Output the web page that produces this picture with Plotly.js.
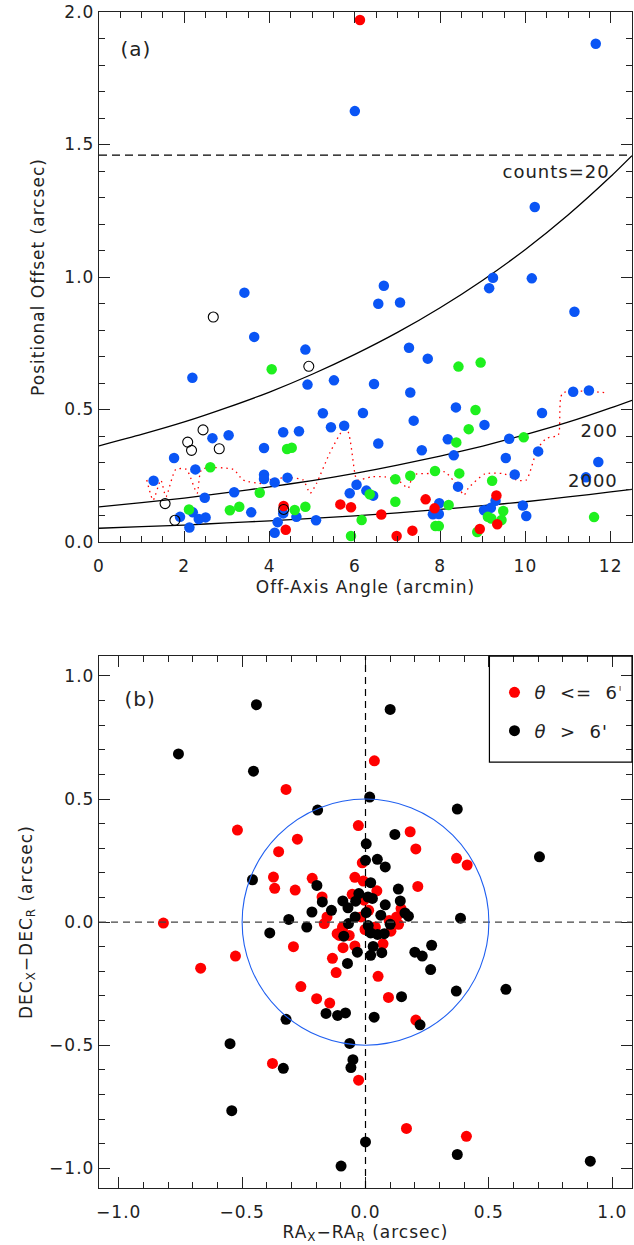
<!DOCTYPE html>
<html>
<head>
<meta charset="utf-8">
<script src="https://cdn.plot.ly/plotly-3.0.1.min.js"></script>
<style>
  html, body { margin: 0; padding: 0; background: #fff; }
  #chart { width: 634px; height: 1245px; }
  #chart text { letter-spacing: 1px; }
</style>
</head>
<body>
<div id="chart"></div>
<script>
// ---- panel (a): positional offset vs off-axis angle ----
let blueX = [6.00, 11.65, 10.22, 9.24, 9.15, 10.15, 11.15, 6.68, 6.55, 7.06, 7.27, 7.71, 6.45, 7.30, 3.41, 3.64, 2.19, 4.84, 4.89, 5.51,
             5.25, 6.19, 8.37, 5.44, 5.75, 4.69, 4.32, 7.38, 9.04, 10.39, 11.12, 11.49, 6.55, 8.18, 9.62, 7.57, 8.32, 9.54, 10.30, 11.71,
             11.42, 9.75, 8.42, 3.87, 2.66, 3.04, 1.76, 2.26, 1.28, 3.87, 3.87, 4.12, 4.42, 3.17, 2.48, 2.20, 1.90, 2.34, 2.50, 2.12,
             3.57, 4.32, 4.19, 4.12, 6.04, 5.88, 6.27, 6.43, 4.63, 5.09, 9.30, 9.19, 9.03, 9.94, 10.02, 7.98, 7.83, 7.97];
let blueY = [1.626, 1.880, 1.264, 0.997, 0.958, 0.995, 0.869, 0.967, 0.899, 0.904, 0.733, 0.692, 0.596, 0.564, 0.941, 0.774, 0.620, 0.726, 0.594, 0.610,
             0.486, 0.487, 0.508, 0.433, 0.439, 0.418, 0.414, 0.458, 0.442, 0.487, 0.567, 0.572, 0.372, 0.388, 0.390, 0.346, 0.327, 0.317, 0.342, 0.302,
             0.244, 0.255, 0.209, 0.355, 0.392, 0.403, 0.317, 0.274, 0.231, 0.254, 0.238, 0.225, 0.243, 0.188, 0.167, 0.112, 0.095, 0.087, 0.093, 0.055,
             0.112, 0.108, 0.075, 0.035, 0.216, 0.184, 0.194, 0.175, 0.095, 0.082, 0.156, 0.129, 0.120, 0.138, 0.098, 0.146, 0.105, 0.106];

let greenX = [4.05, 8.43, 8.95, 8.83, 8.67, 9.96, 8.38, 8.45, 7.88, 7.30, 6.95, 9.22, 6.35, 4.41, 4.52, 2.61, 3.77, 2.11, 3.07, 3.29,
              4.59, 4.84, 6.16, 5.91, 6.95, 8.20, 7.89, 7.97, 9.48, 9.12, 9.20, 9.44, 8.87, 11.61];
let greenY = [0.652, 0.662, 0.677, 0.498, 0.426, 0.395, 0.376, 0.259, 0.268, 0.250, 0.237, 0.231, 0.180, 0.351, 0.356, 0.282, 0.186, 0.123, 0.120, 0.133,
              0.121, 0.133, 0.083, 0.023, 0.152, 0.140, 0.060, 0.060, 0.117, 0.095, 0.089, 0.083, 0.038, 0.094];

let redX = [6.12, 9.32, 9.34, 8.93, 7.66, 7.87, 6.62, 5.66, 5.91, 4.33, 4.38, 6.98, 7.35];
let redY = [1.970, 0.176, 0.067, 0.049, 0.161, 0.127, 0.104, 0.142, 0.131, 0.136, 0.046, 0.023, 0.043];

let openX = [2.68, 4.92, 2.44, 2.08, 2.17, 2.82, 1.55, 1.78, 4.33];
let openY = [0.849, 0.663, 0.423, 0.377, 0.346, 0.352, 0.145, 0.082, 0.123];

// running offset (red dotted)
let runX = [1.12, 1.27, 1.45, 1.57, 1.80, 2.05, 2.30, 2.41, 3.15, 3.38, 3.85, 4.05, 4.48, 4.79, 4.95, 5.10, 5.41, 5.73, 5.84, 6.00,
            6.05, 6.39, 6.70, 7.01, 7.25, 7.37, 7.80, 8.11, 8.30, 8.42, 8.56, 8.66, 9.05, 9.51, 9.79, 10.02, 10.28, 10.49, 10.77, 10.87, 11.90];
let runY = [0.234, 0.158, 0.234, 0.171, 0.274, 0.274, 0.184, 0.274, 0.274, 0.234, 0.221, 0.237, 0.243, 0.234, 0.184, 0.221, 0.335, 0.423, 0.416, 0.259,
            0.234, 0.246, 0.246, 0.234, 0.203, 0.253, 0.259, 0.265, 0.234, 0.209, 0.177, 0.203, 0.257, 0.257, 0.234, 0.234, 0.350, 0.391, 0.404, 0.561, 0.563];

// error curves for source counts 20, 200, 2000
let curveX = [0, 1, 2, 3, 4, 5, 6, 7, 8, 9, 10, 11, 12, 12.5];
let counts20 = [0.363, 0.406, 0.453, 0.507, 0.566, 0.633, 0.708, 0.791, 0.884, 0.988, 1.104, 1.234, 1.379, 1.458];
let counts200 = [0.133, 0.149, 0.166, 0.186, 0.208, 0.232, 0.259, 0.290, 0.324, 0.362, 0.405, 0.452, 0.506, 0.535];
let counts2000 = [0.052, 0.058, 0.064, 0.072, 0.080, 0.089, 0.099, 0.110, 0.123, 0.137, 0.152, 0.170, 0.189, 0.199];
let cutLevel = 1.46;

// ---- panel (b): RA / DEC offsets ----
let innerX = [-0.322, -0.519, -0.352, -0.373, -0.368, -0.819, -0.527, -0.668, -0.377, 0.181, 0.204, 0.369, 0.412, 0.212, 0.204, 0.166, 0.409, 0.036, -0.276, -0.029,
              -0.013, -0.285, -0.216, -0.043, -0.009, -0.176, -0.156, -0.054, -0.006, -0.018, -0.093, -0.167, 0.046, 0.144, 0.126, 0.013, 0.096, 0.134, 0.040, -0.292,
              -0.115, -0.091, -0.043, -0.134, -0.119, -0.262, -0.198, -0.145, -0.028, -0.093, -0.106, -0.066, 0.071, 0.051, 0.093, 0.103, -0.002];
let innerY = [0.539, 0.374, 0.286, 0.183, 0.137, -0.004, -0.138, -0.187, -0.574, 0.367, 0.297, 0.259, 0.232, 0.145, -0.398, -0.838, -0.870, 0.655, 0.337, 0.392,
              0.241, 0.130, 0.178, 0.182, 0.167, 0.102, 0.021, 0.113, 0.089, 0.021, -0.020, -0.006, 0.127, 0.055, 0.021, 0.048, 0.007, -0.009, -0.020, -0.100,
              -0.047, -0.104, -0.097, -0.147, -0.205, -0.262, -0.311, -0.329, -0.642, -0.027, -0.054, -0.054, -0.088, -0.220, -0.306, -0.037, -0.030];

let outerX = [-0.442, -0.758, -0.454, -0.458, -0.388, -0.322, -0.549, -0.333, -0.542, -0.311, 0.372, 0.705, 0.385, 0.268, 0.200, 0.230, 0.264, 0.368, 0.569, 0.146,
              0.221, 0.372, 0.911, 0.100, 0.000, -0.099, -0.194, 0.017, 0.003, 0.000, -0.197, -0.175, -0.138, -0.217, -0.092, -0.071, -0.040, -0.027, 0.010, -0.042,
              0.003, -0.238, -0.069, 0.011, 0.119, 0.048, 0.080, 0.133, 0.021, 0.141, 0.028, 0.080, 0.160, 0.174, 0.062, 0.100, -0.088, -0.033, -0.073, -0.160,
              -0.113, -0.081, 0.021, 0.021, 0.035, -0.064, -0.051, -0.059, 0.049, 0.076, 0.031, 0.066];
let outerY = [0.883, 0.683, 0.613, 0.172, -0.044, -0.395, -0.494, -0.594, -0.766, 0.011, 0.459, 0.265, 0.016, -0.094, -0.122, -0.138, -0.193, -0.280, -0.273, -0.303,
              -0.417, -0.944, -0.971, 0.864, -0.893, -0.991, 0.455, 0.508, 0.318, 0.251, 0.149, 0.082, 0.048, 0.041, 0.086, 0.058, 0.085, 0.116, 0.102, 0.021,
              0.039, -0.020, -0.006, -0.014, 0.356, 0.255, 0.224, 0.134, 0.160, 0.086, 0.096, 0.070, 0.037, 0.024, 0.028, -0.009, -0.057, -0.122, -0.168, -0.371,
              -0.379, -0.369, -0.044, -0.135, -0.386, -0.493, -0.559, -0.591, -0.050, -0.047, -0.099, -0.124];
let circleRadius = 0.5;

let font = "DejaVu Sans";
let ink = "#222";

function dots(x, y, color, size, xa, ya, name) {
  return {
    x: x, y: y, xaxis: xa, yaxis: ya,
    type: "scatter", mode: "markers",
    marker: {color: color, size: size, line: {width: 0}},
    name: name, showlegend: false, hoverinfo: "x+y",
  };
}

function curve(x, y, dash, color, shape) {
  return {
    x: x, y: y, xaxis: "x", yaxis: "y",
    type: "scatter", mode: "lines",
    line: {color: color, width: 1.3, dash: dash, shape: shape, smoothing: 0.6},
    showlegend: false, hoverinfo: "skip",
  };
}

let innerTrace = dots(innerX, innerY, "#ff0000", 11, "x2", "y2", "<i>θ</i>\u00a0 <=\u00a0 6'");
innerTrace.showlegend = true;
innerTrace.legendgroup = "in";
let outerTrace = dots(outerX, outerY, "#000000", 11, "x2", "y2", "<i>θ</i>\u00a0 >\u00a0 6'");
outerTrace.showlegend = true;
outerTrace.legendgroup = "out";

let data = [
  curve(curveX, counts20, "solid", "#000", "spline"),
  curve(curveX, counts200, "solid", "#000", "spline"),
  curve(curveX, counts2000, "solid", "#000", "spline"),
  curve(runX, runY, "1.5px,4px", "#ff0000", "spline"),
  dots(blueX, blueY, "#0a55f5", 10.5, "x", "y", "blue"),
  dots(greenX, greenY, "#1ef01e", 10.5, "x", "y", "green"),
  dots(redX, redY, "#ff0000", 10.5, "x", "y", "red"),
  {
    x: openX, y: openY, xaxis: "x", yaxis: "y",
    type: "scatter", mode: "markers",
    marker: {symbol: "circle-open", color: "#000", size: 10, line: {width: 1.1}},
    showlegend: false, hoverinfo: "x+y",
  },
  innerTrace,
  outerTrace,
];

let axisBase = {
  showline: true, mirror: "allticks", linecolor: ink, linewidth: 1.2,
  ticks: "inside", ticklen: 11, tickwidth: 1, tickcolor: ink,
  showgrid: false, zeroline: false,
  tickfont: {family: font, size: 17, color: ink},
};

function axis(extra, minorStep) {
  return Object.assign({}, axisBase, {
    minor: {ticks: "inside", ticklen: 6, dtick: minorStep, tickcolor: ink, tickwidth: 1, showgrid: false},
  }, extra);
}

let titleFont = {family: font, size: 17, color: ink};

let layout = {
  width: 634, height: 1245,
  margin: {l: 99, r: 2, t: 12, b: 57},
  paper_bgcolor: "#fff", plot_bgcolor: "#fff",
  font: {family: font, color: ink},
  showlegend: true,
  legend: {
    x: 0.742, xanchor: "left", y: 0.437, yanchor: "top",
    bgcolor: "rgba(0,0,0,0)", borderwidth: 0,
    font: {family: font, size: 18, color: ink},
    tracegroupgap: 12, itemwidth: 30,
  },
  xaxis: axis({
    anchor: "y", domain: [0, 1], range: [0, 12.5], dtick: 2, tick0: 0,
    ticklabelstandoff: 8,
    title: {text: "Off-Axis Angle (arcmin)", font: titleFont, standoff: 6},
  }, 0.5),
  yaxis: axis({
    anchor: "x", domain: [0.5493, 1], range: [0, 2.0], dtick: 0.5, tickformat: ".1f",
    title: {text: "Positional Offset (arcsec)", font: titleFont, standoff: 18},
  }, 0.1),
  xaxis2: axis({
    anchor: "y2", domain: [0, 1], range: [-1.08, 1.08], dtick: 0.5, tick0: 0, tickformat: ".1f",
    ticklabelstandoff: 8,
    title: {text: "RA<sub>X</sub>−RA<sub>R</sub> (arcsec)", font: titleFont, standoff: 4},
  }, 0.1),
  yaxis2: axis({
    anchor: "x2", domain: [0, 0.4522], range: [-1.08, 1.08], dtick: 0.5, tick0: 0, tickformat: ".1f",
    title: {text: "DEC<sub>X</sub>−DEC<sub>R</sub> (arcsec)", font: titleFont, standoff: 16},
  }, 0.1),
  shapes: [
    {type: "line", xref: "x domain", yref: "y", x0: 0, x1: 1, y0: cutLevel, y1: cutLevel,
     line: {color: "#000", width: 1.2, dash: "8px,5px"}},
    {type: "line", xref: "x2 domain", yref: "y2", x0: 0, x1: 1, y0: 0, y1: 0,
     line: {color: "#444", width: 1.2, dash: "7px,5px"}},
    {type: "line", xref: "x2", yref: "y2 domain", x0: 0, x1: 0, y0: 0, y1: 1,
     line: {color: "#000", width: 1.2, dash: "7px,5px"}},
    {type: "circle", xref: "x2", yref: "y2", x0: -circleRadius, x1: circleRadius, y0: -circleRadius, y1: circleRadius,
     line: {color: "#1f5ff0", width: 1.1}},
    // legend box
    {type: "rect", xref: "x2 domain", yref: "y2 domain", x0: 0.7325, x1: 1, y0: 0.801, y1: 1,
     line: {color: "#000", width: 1.2}, fillcolor: "rgba(0,0,0,0)"},
  ],
  annotations: [
    {xref: "x", yref: "y", x: 0.5, y: 1.86, xanchor: "left", text: "(a)", showarrow: false,
     font: {family: font, size: 20, color: ink}},
    {xref: "x", yref: "y", x: 11.92, y: 1.40, xanchor: "right", text: "counts=20", showarrow: false,
     font: {family: font, size: 18, color: ink}},
    {xref: "x", yref: "y", x: 12.16, y: 0.42, xanchor: "right", text: "200", showarrow: false,
     font: {family: font, size: 18, color: ink}},
    {xref: "x", yref: "y", x: 12.16, y: 0.234, xanchor: "right", text: "2000", showarrow: false,
     font: {family: font, size: 18, color: ink}},
    {xref: "x2", yref: "y2", x: -0.98, y: 0.906, xanchor: "left", text: "(b)", showarrow: false,
     font: {family: font, size: 20, color: ink}},
  ],
};

Plotly.newPlot("chart", data, layout, {
  displaylogo: false,
  displayModeBar: false,
  staticPlot: true,
});
</script>
</body>
</html>
